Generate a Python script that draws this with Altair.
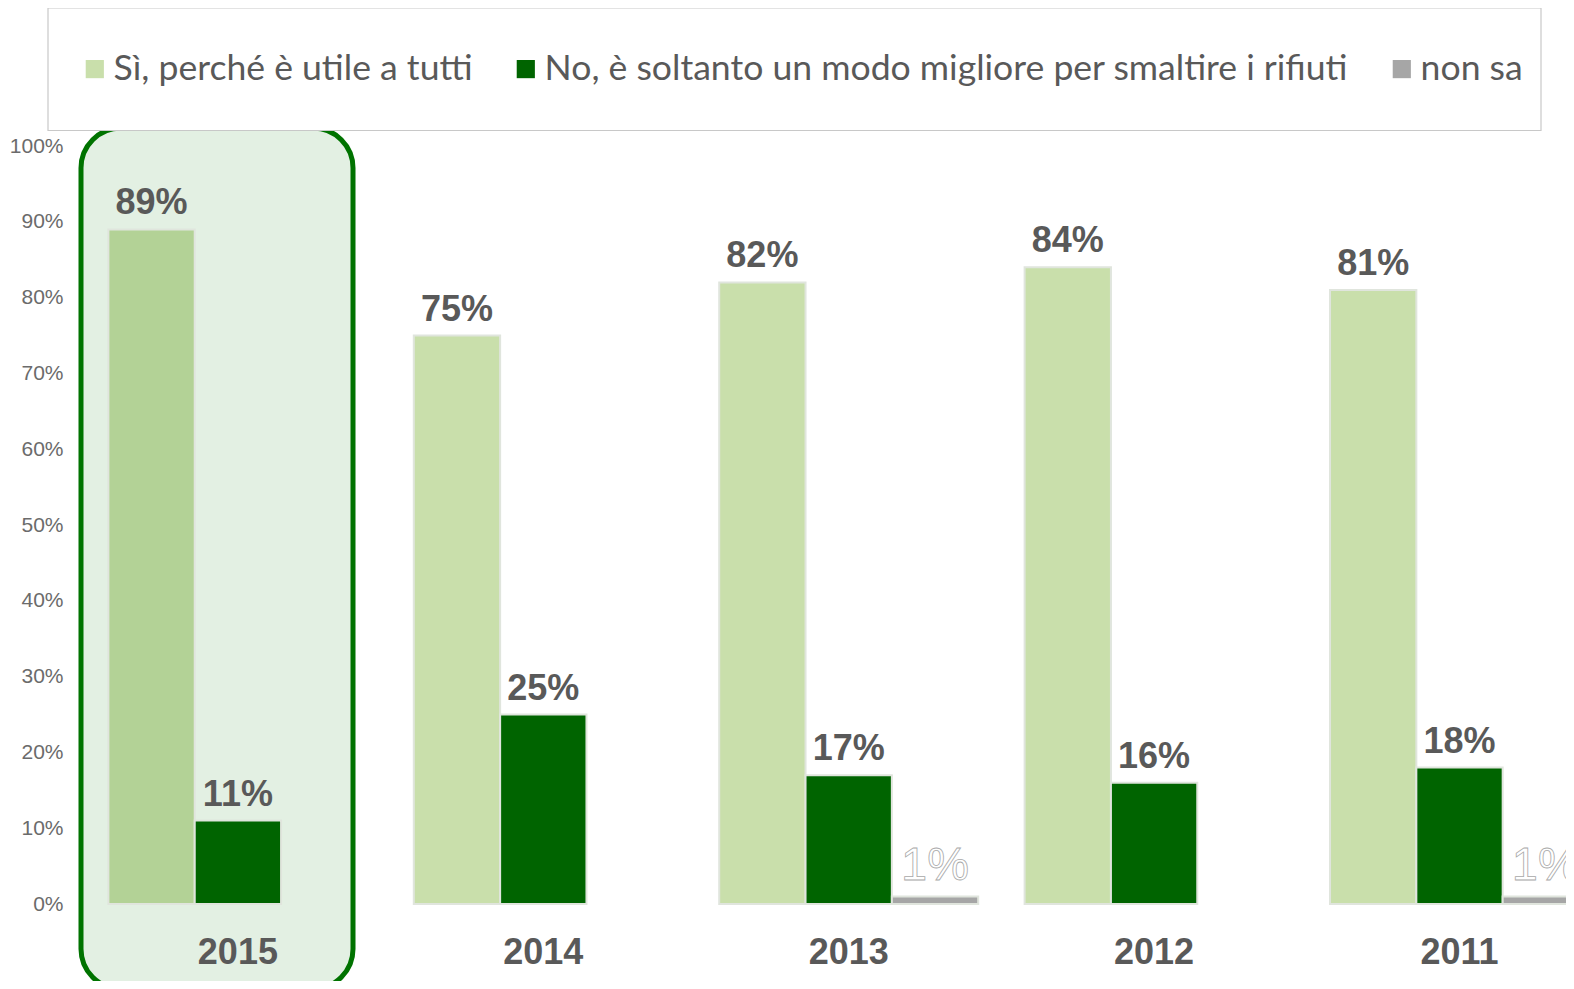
import altair as alt
import pandas as pd

years = ["2015", "2014", "2013", "2012", "2011"]
series = ["Sì, perché è utile a tutti",
          "No, è soltanto un modo migliore per smaltire i rifiuti",
          "non sa"]
si = [89, 75, 82, 84, 81]
no = [11, 25, 17, 16, 18]
nonsa = [0, 0, 1, 0, 1]
colors = ["#c9dfab", "#006400", "#a6a6a6"]
y_ticks = [0, 10, 20, 30, 40, 50, 60, 70, 80, 90, 100]

rows = []
for i, y in enumerate(years):
    for s, vals in zip(series, [si, no, nonsa]):
        rows.append({"year": y, "series": s, "value": vals[i]})
df = pd.DataFrame(rows)

FONT = "Liberation Sans"
W, H = 1491, 758
base = alt.Chart(df)

x_enc = alt.X("year:N", sort=years,
              scale=alt.Scale(range=[33.4, 1514], paddingInner=0.152, paddingOuter=0),
              axis=alt.Axis(title=None, labelFontSize=36, labelFontWeight="bold",
                            labelColor="#595959", labelFont=FONT, labelPadding=31,
                            ticks=False, domain=False, labelAngle=0, zindex=1))
xo_enc = alt.XOffset("series:N", sort=series,
                     scale=alt.Scale(domain=series, paddingInner=0, paddingOuter=0))
y_enc = alt.Y("value:Q", scale=alt.Scale(domain=[0, 100], nice=False),
              axis=alt.Axis(title=None, values=y_ticks, labelExpr="datum.value + '%'",
                            labelFontSize=21, labelColor="#6b6b6b", labelFont=FONT,
                            labelPadding=12, ticks=False, domain=False, grid=False))

highlight = alt.Chart(alt.Data(values=[{}])).mark_rect(
    fill="#e3f0e3", stroke="#007300", strokeWidth=5, cornerRadius=40
).encode(x=alt.value(6), x2=alt.value(278), y=alt.value(-18), y2=alt.value(843))

legend_box = alt.Chart(alt.Data(values=[{}])).mark_rect(
    fill="white", stroke="#c8c8c8", strokeWidth=1.2
).encode(x=alt.value(-27), x2=alt.value(1466), y=alt.value(-138), y2=alt.value(-15.5))

bars = base.transform_filter("datum.value > 0").mark_bar(
    stroke="#e0e5dd", strokeWidth=2
).encode(
    x=x_enc, xOffset=xo_enc, y=y_enc,
    color=alt.condition(
        f"datum.year == '2015' && datum.series == '{series[0]}'",
        alt.value("#b3d296"),
        alt.Color("series:N", sort=series,
                  scale=alt.Scale(domain=series, range=colors),
                  legend=alt.Legend(title=None, orient="none", legendX=2, legendY=-95,
                                    direction="horizontal", symbolType="square",
                                    symbolSize=330, symbolStrokeWidth=0,
                                    labelFontSize=35.6, labelFont="Lato", labelColor="#595959",
                                    labelLimit=1200, labelOffset=1, columnPadding=35))
    )
)

labels = base.transform_filter("datum.series != 'non sa' && datum.value > 0").transform_calculate(
    lab="datum.value + '%'"
).mark_text(fontSize=36, fontWeight="bold", font=FONT, color="#595959",
            baseline="alphabetic", dy=-15).encode(
    x=x_enc, xOffset=xo_enc, y=y_enc, text="lab:N")

labels_ns = base.transform_filter("datum.series == 'non sa' && datum.value > 0").transform_calculate(
    lab="datum.value + '%'"
).mark_text(fontSize=47, font=FONT, fill="white", stroke="#a8a8a8", strokeWidth=0.8,
            baseline="alphabetic", dy=-16).encode(
    x=x_enc, xOffset=xo_enc, y=y_enc, text="lab:N")

chart = alt.layer(highlight, legend_box, bars, labels, labels_ns).properties(
    width=W, height=H,
    padding={"left": 67, "top": 138, "right": 0, "bottom": 77},
    autosize=alt.AutoSizeParams(type="none"),
    background="white",
).configure_view(stroke=None)

chart.save("out.html", embed_options={"renderer": "svg", "actions": False})
